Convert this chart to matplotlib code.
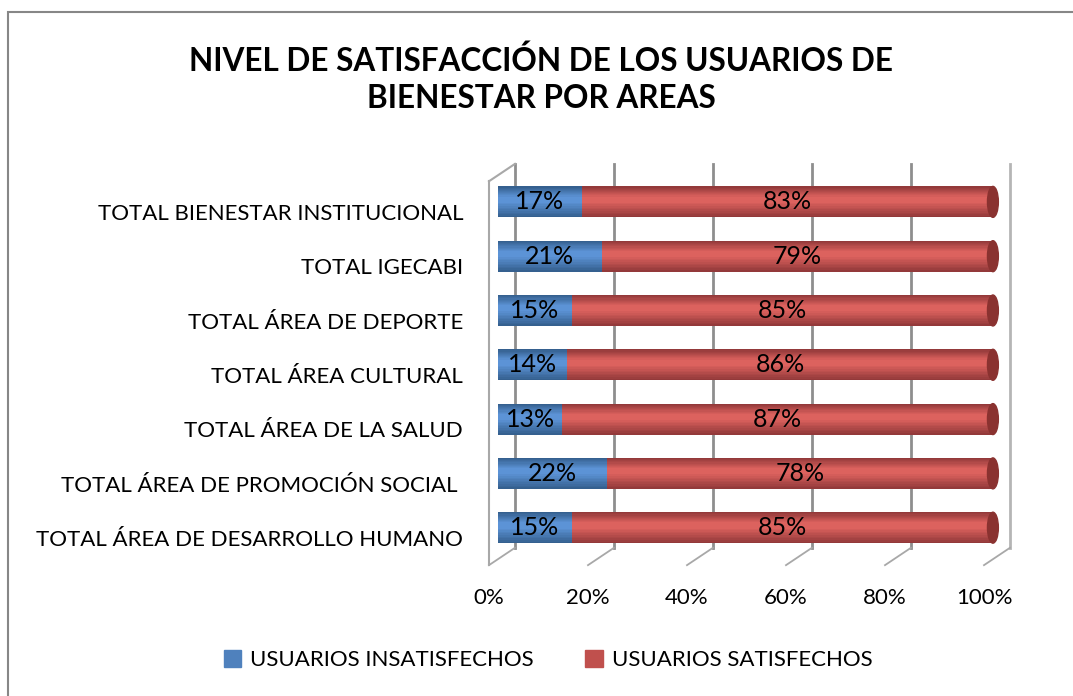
import matplotlib
matplotlib.use('Agg')
import matplotlib.pyplot as plt
import numpy as np
from matplotlib.colors import to_rgb
from matplotlib.patches import Rectangle, Ellipse

# datos (de abajo hacia arriba)
categories = ['TOTAL ÁREA DE DESARROLLO HUMANO',
              'TOTAL ÁREA DE PROMOCIÓN SOCIAL ',
              'TOTAL ÁREA DE LA SALUD',
              'TOTAL ÁREA CULTURAL',
              'TOTAL ÁREA DE DEPORTE',
              'TOTAL IGECABI',
              'TOTAL BIENESTAR INSTITUCIONAL']
insatisfechos = [15, 22, 13, 14, 15, 21, 17]
satisfechos = [85, 78, 87, 86, 85, 79, 83]
x_ticks = [0, 20, 40, 60, 80, 100]
x_tick_labels = ['0%', '20%', '40%', '60%', '80%', '100%']
series_names = ['USUARIOS INSATISFECHOS', 'USUARIOS SATISFECHOS']
title = 'NIVEL DE SATISFACCIÓN DE LOS USUARIOS DE\nBIENESTAR POR AREAS'

plt.rcParams['font.family'] = ['Lato', 'DejaVu Sans']

W, H = 1073, 696
fig = plt.figure(figsize=(W / 100, H / 100), dpi=100)

# ejes en pixeles: x px = 489 + 4.95*x ; y px = 538 - 54.3*y
ax_l, ax_r, ax_t, ax_b = 470, 1030, 150, 580
ax = fig.add_axes([ax_l / W, 1 - ax_b / H, (ax_r - ax_l) / W, (ax_b - ax_t) / H])
ax.set_xlim((ax_l - 489) / 4.95, (ax_r - 489) / 4.95)
ax.set_ylim((538 - ax_b) / 54.3, (538 - ax_t) / 54.3)

# marco pseudo 3D
DX, DY = 5.25, 0.32
floor, top = -0.5, 6.57
grid_c = '#8e8e8e'
for t in x_ticks:
    c = '#b5b5b5' if t == x_ticks[-1] else grid_c
    ax.plot([t + DX, t + DX], [floor + DY, top + DY], color=c, lw=2, zorder=1)
    ax.plot([t, t + DX], [floor, floor + DY], color='#a8a8a8', lw=1.3, zorder=1)
ax.plot([0, 0], [floor, top], color='#a8a8a8', lw=1.5, zorder=1)
ax.plot([0, DX], [top, top + DY], color='#a8a8a8', lw=1.5, zorder=1)


def shades(dark, light, n=10):
    d, l = np.array(to_rgb(dark)), np.array(to_rgb(light))
    return [tuple(d + (l - d) * k / (n - 1)) for k in range(n)]


# barras cilindricas
h = 0.57
bx, by = 1.8, 0.19
blue = shades('#35608f', '#5c93d6')
red = shades('#93393a', '#dc625e')
for i, (a, b) in enumerate(zip(insatisfechos, satisfechos)):
    y = i + by
    for left, w, cols in ((bx, a, blue), (bx + a, b, red)):
        n = len(cols)
        for k, c in enumerate(cols):
            frac = 1 - 0.8 * k / (n - 1)
            ax.barh(y + 0.05 * (1 - frac), w, left=left, height=h * frac,
                    color=c, zorder=3)
    ax.add_patch(Ellipse((bx + a + b, y), 2.2, h, color='#8a3230', zorder=4))
    ax.text(bx + a / 2, y, f'{a}%', ha='center', va='center', fontsize=18, zorder=5)
    ax.text(bx + a + b / 2, y, f'{b}%', ha='center', va='center', fontsize=18, zorder=5)

ax.set_yticks(range(len(categories)), categories)
ax.set_xticks(x_ticks, x_tick_labels)
ax.tick_params(length=0, labelsize=16)
ax.tick_params(axis='y', pad=5)
ax.tick_params(axis='x', pad=6)
for s in ax.spines.values():
    s.set_visible(False)

fig.text(541 / W, 1 - 79 / H, title, ha='center', va='center',
         fontsize=22.7, fontweight='bold', linespacing=1.35)

handles = [Rectangle((0, 0), 1, 1, color='#4f81bd'), Rectangle((0, 0), 1, 1, color='#c0504d')]
fig.legend(handles, series_names, loc='center', bbox_to_anchor=(548 / W, 1 - 660 / H),
           ncol=2, frameon=False, fontsize=16, handlelength=0.8, handleheight=0.8,
           handletextpad=0.4, columnspacing=2.3)

# borde del area del grafico
fig.patches.append(Rectangle((7.5 / W, -0.1), 1.2, 1.1 - 12 / H, transform=fig.transFigure,
                             fill=False, ec='#878787', lw=1.5))

fig.savefig('out.png', dpi=100)
